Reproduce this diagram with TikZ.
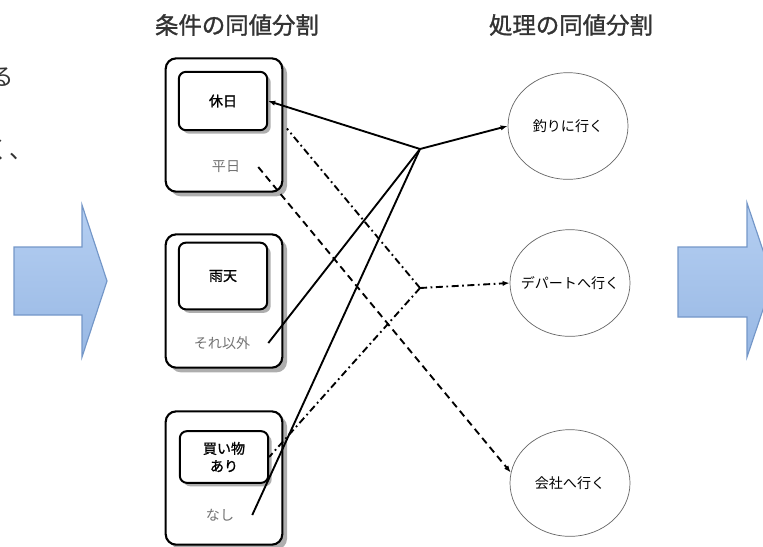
\documentclass[tikz,border=0pt]{standalone}
\usepackage{fontspec}
\usepackage{tikz}
\usetikzlibrary{shapes.geometric,shadows,arrows.meta}

\newfontfamily\jpfont{Noto Sans CJK JP}
\newfontfamily\jpboldfont[FakeBold=1.2]{Noto Sans CJK JP}
\definecolor{arrowtop}{HTML}{B5CFF2}
\definecolor{arrowbottom}{HTML}{98B8E4}
\definecolor{arrowline}{HTML}{7497C8}

\begin{document}
\begin{tikzpicture}[x=0.03cm,y=-0.03cm,
                every node/.style={font=\jpfont\fontsize{12}{15}\selectfont},
                heading/.style={font=\jpboldfont\fontsize{20}{24}\selectfont,text=black!80},
                slidetext/.style={font=\jpfont\fontsize{20}{24}\selectfont,text=black!80,anchor=east},
                group/.style={draw,rounded corners=9pt,line width=1.8pt,fill=white,minimum width=3.5cm,minimum height=4cm,
                    drop shadow={shadow xshift=4pt,shadow yshift=-4pt,fill=black!45,opacity=.7}},
                valid/.style={draw,rounded corners=6pt,line width=1.7pt,fill=white,minimum width=2.65cm,align=center,
                    font=\jpboldfont\fontsize{12}{15}\selectfont,
                    drop shadow={shadow xshift=3pt,shadow yshift=-3pt,fill=black!45,opacity=.7}},
                invalid/.style={text=black!55},
                result/.style={ellipse,draw=black!60,line width=.6pt,minimum width=3.6cm,minimum height=3.2cm},
                blockarrow/.style={draw=arrowline,line width=1pt,top color=arrowtop,bottom color=arrowbottom},
                connection/.style={line width=1.6pt},
                arrowend/.style={-{Latex[length=6pt,width=4.5pt]}},
                dashdotline/.style={dash pattern=on 6pt off 3pt on 1.5pt off 3pt},
                dashline/.style={dash pattern=on 6pt off 4pt},
            ]

            \clip (0,0) rectangle (763,546);

            % text of the slide, cut at the left edge
            \node[slidetext] (ru) at (18,77) {る};
            \node[slidetext] (ku) at (37,150) {く、};

            % block arrows
            \draw[blockarrow] (14,247) -- (82,247) -- (82,205) -- (107,281) -- (82,357) -- (82,315) -- (14,315) -- cycle;
            \draw[blockarrow] (678,247) -- (747,247) -- (747,203) -- (773,280) -- (747,357) -- (747,317) -- (678,317) -- cycle;

            \node[heading] (condtitle) at (237,25) {条件の同値分割};
            \node[heading] (proctitle) at (571,25) {処理の同値分割};

            % conditions
            \node[group] (box1) at (224,125) {};
            \node[group] (box2) at (224,301) {};
            \node[group] (box3) at (224,478) {};

            \node[valid,minimum height=1.75cm] (kyu) at (223,101) {休日};
            \node[valid,minimum height=2cm] (uten) at (223,276) {雨天};
            \node[valid,minimum height=1.55cm] (kai) at (224,457) {買い物\\あり};

            \node[invalid] (hei) at (226,167) {平日};
            \node[invalid] (sore) at (222,343) {それ以外};
            \node[invalid] (nashi) at (220,515) {なし};

            % processes
            \node[result,label={center:釣りに行く}] (r1) at (568,126) {};
            \node[result,label={center:デパートへ行く}] (r2) at (570,283) {};
            \node[result,label={center:会社へ行く}] (r3) at (570,483) {};

            \coordinate (j1) at (420,149);
            \coordinate (j2) at (420,288);

            \draw[connection,arrowend] (j1) -- (kyu.east);
            \draw[connection] (j1) -- ([xshift=12pt]sore.east);
            \draw[connection] (j1) -- ([xshift=12pt]nashi.east);
            \draw[connection,arrowend] (j1) -- (r1.west);

            \draw[connection,dashdotline] (j2) -- ([xshift=3pt,yshift=-3pt]box1.east);
            \draw[connection,dashdotline] (j2) -- (kai.east);
            \draw[connection,dashdotline,arrowend] (j2) -- (r2.west);

            \draw[connection,dashline,arrowend] ([xshift=12pt]hei.east) -- (r3.170);
        \end{tikzpicture}
\end{document}
